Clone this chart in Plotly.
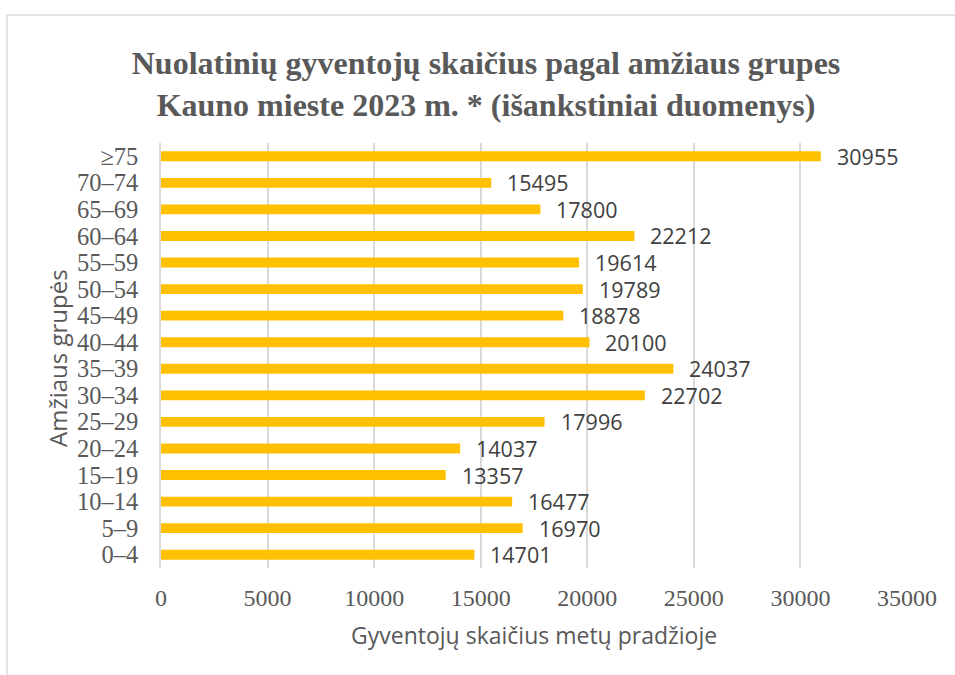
import plotly.graph_objects as go

# Age groups, bottom to top
age_groups = ["0–4", "5–9", "10–14", "15–19", "20–24", "25–29", "30–34", "35–39",
              "40–44", "45–49", "50–54", "55–59", "60–64", "65–69", "70–74", "≥75"]
residents = [14701, 16970, 16477, 13357, 14037, 17996, 22702, 24037,
             20100, 18878, 19789, 19614, 22212, 17800, 15495, 30955]
x_ticks = [0, 5000, 10000, 15000, 20000, 25000, 30000, 35000]

title_text = ("Nuolatinių gyventojų skaičius pagal amžiaus grupes<br>"
              "Kauno mieste 2023 m. * (išankstiniai duomenys)")
x_title = "Gyventojų skaičius metų pradžioje"
y_title = "Amžiaus grupės"

W, H = 955, 675
L, R, T, B = 161, 48, 143, 107
pw, ph = W - L - R, H - T - B

fig = go.Figure()
fig.add_trace(go.Bar(
    x=residents, y=age_groups, orientation="h",
    marker=dict(color="#FFC000", line=dict(width=0)),
    width=0.37, hoverinfo="x+y",
))

# value labels to the right of each bar
annotations = [
    dict(x=v, y=g, xref="x", yref="y", text=str(v), showarrow=False,
         xanchor="left", yanchor="middle", xshift=14,
         font=dict(family="Open Sans", size=21.5, color="#404040"))
    for g, v in zip(age_groups, residents)
]
annotations.append(dict(
    x=0.5, y=(H - B - 635) / ph, xref="paper", yref="paper",
    text=x_title, showarrow=False, xanchor="center", yanchor="middle",
    font=dict(family="Open Sans", size=23, color="#595959")))
annotations.append(dict(
    x=(57 - L) / pw, y=(H - B - 358) / ph, xref="paper", yref="paper",
    text=y_title, showarrow=False, textangle=-90, xanchor="center", yanchor="middle",
    font=dict(family="Open Sans", size=24, color="#595959")))

# chart frame
shapes = [dict(type="rect", xref="paper", yref="paper",
               x0=(7 - L) / pw, x1=(965 - L) / pw,
               y0=(H - B - 690) / ph, y1=(H - B - 15) / ph,
               line=dict(color="#D9D9D9", width=1.5), fillcolor="rgba(0,0,0,0)",
               layer="below")]

fig.update_layout(
    width=W, height=H,
    margin=dict(l=L, r=R, t=T, b=B),
    paper_bgcolor="white", plot_bgcolor="white",
    showlegend=False,
    title=dict(text=title_text, x=486 / W, xref="container", xanchor="center",
               y=1 - 74 / H, yref="container", yanchor="middle",
               font=dict(family="Liberation Serif", size=32, color="#595959",
                         weight="bold")),
    xaxis=dict(range=[0, 35000], tickvals=x_ticks, ticktext=[str(t) for t in x_ticks],
               showgrid=True, gridcolor="#D9D9D9", gridwidth=1.5,
               zeroline=False, showline=False, ticks="",
               tickfont=dict(family="Liberation Serif", size=24, color="#595959"),
               ticklabelstandoff=13),
    yaxis=dict(categoryorder="array", categoryarray=age_groups,
               tickmode="array", tickvals=age_groups, ticktext=age_groups,
               range=[-0.5, len(age_groups) - 0.5],
               showgrid=False, zeroline=False, showline=True,
               linecolor="#D9D9D9", linewidth=1.5, ticks="",
               tickfont=dict(family="Liberation Serif", size=24.5, color="#595959"),
               ticklabelstandoff=16),
    annotations=annotations,
    shapes=shapes,
)

fig.write_html("out.html")
